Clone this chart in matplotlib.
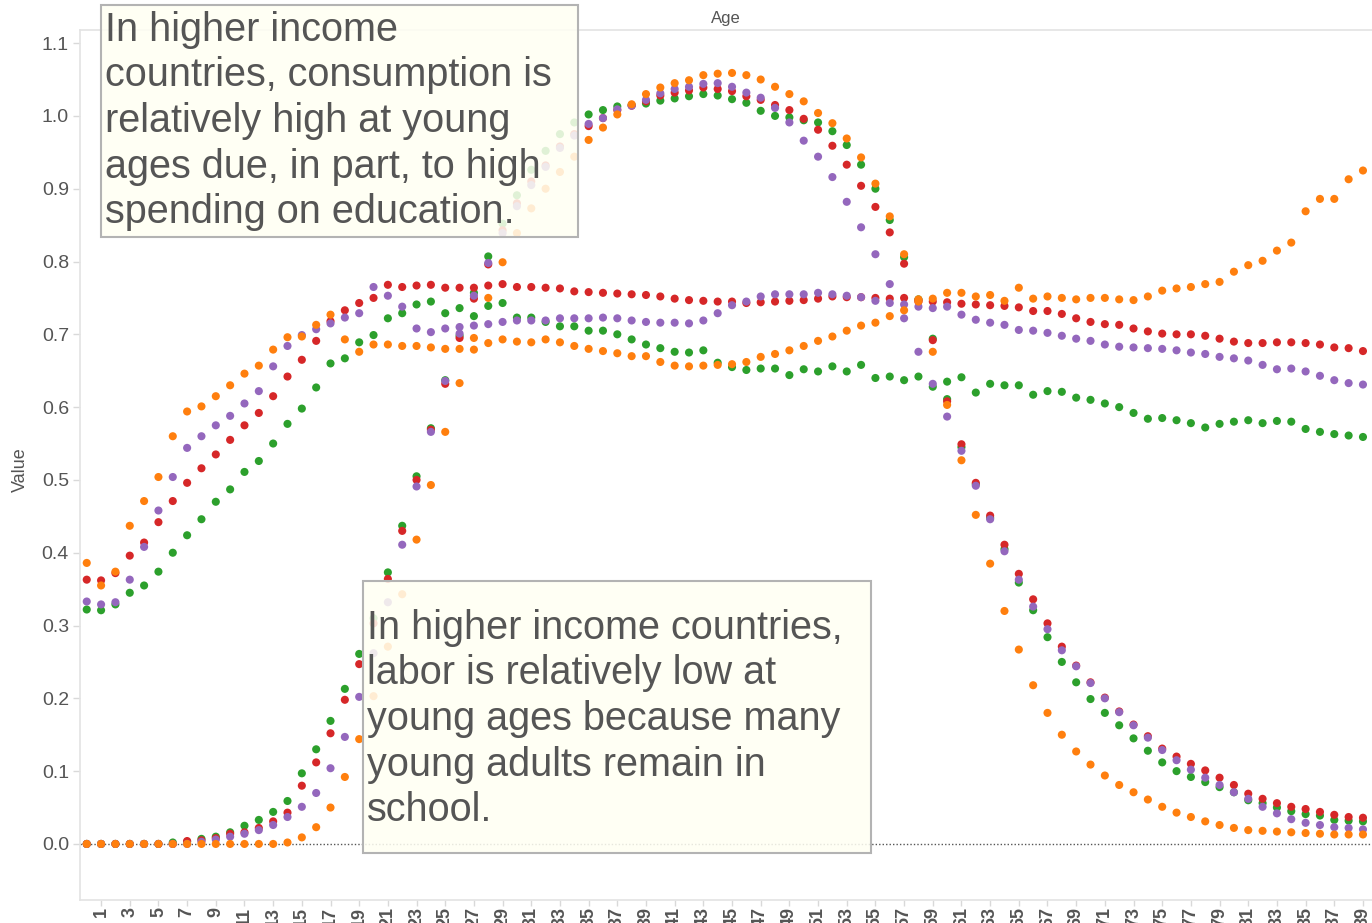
import matplotlib
matplotlib.use("Agg")
import matplotlib.pyplot as plt
from matplotlib.patches import Rectangle
import numpy as np

plt.rcParams['font.family'] = ['Liberation Sans', 'DejaVu Sans']

ages = list(range(0, 90))
xtick_labels = list(range(1, 90, 2))
ytick_values = [0.0, 0.1, 0.2, 0.3, 0.4, 0.5, 0.6, 0.7, 0.8, 0.9, 1.0, 1.1]

# ---- Orange ----
orange_consumption = [
    0.386, 0.355, 0.374, 0.437, 0.471, 0.504, 0.560, 0.594, 0.601, 0.615,
    0.630, 0.646, 0.657, 0.679, 0.696, 0.697, 0.713, 0.727, 0.693, 0.676,
    0.686, 0.686, 0.684, 0.684, 0.682, 0.680, 0.680, 0.679, 0.688, 0.693,
    0.690, 0.689, 0.693, 0.689, 0.684, 0.680, 0.677, 0.674, 0.670, 0.670,
    0.662, 0.657, 0.656, 0.657, 0.658, 0.659, 0.662, 0.669, 0.673, 0.678,
    0.684, 0.691, 0.697, 0.705, 0.712, 0.716, 0.725, 0.733, 0.745, 0.749,
    0.757, 0.757, 0.752, 0.754, 0.746, 0.764, 0.749, 0.752, 0.750, 0.748,
    0.750, 0.750, 0.748, 0.747, 0.752, 0.760, 0.763, 0.765, 0.769, 0.772,
    0.786, 0.795, 0.801, 0.815, 0.826, 0.869, 0.886, 0.886, 0.913, 0.925]
orange_labor = [
    0, 0, 0, 0, 0, 0, 0, 0, 0, 0,
    0, 0, 0, 0, 0.002, 0.009, 0.023, 0.050, 0.092, 0.144,
    0.203, 0.271, 0.343, 0.418, 0.493, 0.566, 0.633, 0.695, 0.750, 0.799,
    0.839, 0.873, 0.900, 0.923, 0.944, 0.967, 0.984, 1.002, 1.016, 1.030,
    1.039, 1.045, 1.049, 1.056, 1.058, 1.059, 1.056, 1.050, 1.040, 1.030,
    1.020, 1.004, 0.990, 0.969, 0.943, 0.907, 0.862, 0.810, 0.748, 0.676,
    0.603, 0.527, 0.452, 0.385, 0.320, 0.267, 0.218, 0.180, 0.150, 0.127,
    0.109, 0.094, 0.081, 0.071, 0.061, 0.051, 0.043, 0.037, 0.031, 0.026,
    0.022, 0.019, 0.018, 0.017, 0.016, 0.015, 0.014, 0.013, 0.013, 0.013]

# ---- Red ----
red_consumption = [
    0.363, 0.362, 0.372, 0.396, 0.414, 0.442, 0.471, 0.496, 0.516, 0.535,
    0.555, 0.575, 0.592, 0.615, 0.642, 0.665, 0.691, 0.718, 0.733, 0.743,
    0.750, 0.768, 0.765, 0.767, 0.768, 0.764, 0.764, 0.764, 0.767, 0.769,
    0.765, 0.765, 0.764, 0.763, 0.759, 0.758, 0.757, 0.756, 0.755, 0.754,
    0.752, 0.749, 0.747, 0.746, 0.745, 0.745, 0.743, 0.744, 0.745, 0.746,
    0.747, 0.749, 0.752, 0.751, 0.751, 0.750, 0.749, 0.750, 0.747, 0.745,
    0.744, 0.742, 0.741, 0.740, 0.739, 0.737, 0.732, 0.732, 0.728, 0.722,
    0.717, 0.714, 0.713, 0.708, 0.704, 0.701, 0.700, 0.700, 0.698, 0.694,
    0.690, 0.688, 0.688, 0.689, 0.689, 0.688, 0.686, 0.682, 0.681, 0.677]
red_labor = [
    0, 0, 0, 0, 0, 0, 0, 0.004, 0.005, 0.008,
    0.014, 0.016, 0.022, 0.031, 0.043, 0.080, 0.112, 0.152, 0.198, 0.247,
    0.303, 0.364, 0.430, 0.500, 0.569, 0.632, 0.695, 0.749, 0.796, 0.843,
    0.880, 0.910, 0.932, 0.958, 0.975, 0.986, 0.997, 1.008, 1.014, 1.020,
    1.028, 1.032, 1.035, 1.039, 1.037, 1.034, 1.027, 1.022, 1.015, 1.008,
    0.996, 0.981, 0.959, 0.933, 0.904, 0.875, 0.840, 0.797, 0.745, 0.692,
    0.608, 0.549, 0.496, 0.451, 0.411, 0.371, 0.336, 0.303, 0.271, 0.245,
    0.222, 0.201, 0.182, 0.164, 0.148, 0.131, 0.120, 0.110, 0.101, 0.091,
    0.081, 0.069, 0.062, 0.056, 0.051, 0.048, 0.044, 0.040, 0.037, 0.036]

# ---- Purple ----
purple_consumption = [
    0.333, 0.329, 0.332, 0.363, 0.408, 0.458, 0.504, 0.544, 0.560, 0.575,
    0.588, 0.605, 0.622, 0.656, 0.684, 0.699, 0.707, 0.715, 0.723, 0.729,
    0.765, 0.753, 0.738, 0.708, 0.703, 0.708, 0.710, 0.712, 0.714, 0.717,
    0.719, 0.719, 0.719, 0.722, 0.722, 0.722, 0.723, 0.722, 0.719, 0.717,
    0.716, 0.716, 0.715, 0.719, 0.729, 0.740, 0.745, 0.752, 0.755, 0.755,
    0.755, 0.757, 0.755, 0.753, 0.751, 0.746, 0.743, 0.741, 0.738, 0.736,
    0.738, 0.727, 0.720, 0.716, 0.713, 0.706, 0.705, 0.702, 0.698, 0.694,
    0.691, 0.686, 0.683, 0.682, 0.681, 0.680, 0.678, 0.675, 0.673, 0.669,
    0.667, 0.664, 0.658, 0.652, 0.653, 0.649, 0.643, 0.637, 0.633, 0.631]
purple_labor = [
    0, 0, 0, 0, 0, 0, 0, 0, 0.003, 0.006,
    0.010, 0.014, 0.019, 0.026, 0.037, 0.051, 0.070, 0.104, 0.147, 0.202,
    0.262, 0.332, 0.411, 0.491, 0.566, 0.636, 0.701, 0.753, 0.798, 0.839,
    0.876, 0.905, 0.930, 0.956, 0.973, 0.989, 0.997, 1.009, 1.014, 1.022,
    1.031, 1.037, 1.040, 1.044, 1.045, 1.040, 1.032, 1.025, 1.011, 0.991,
    0.966, 0.944, 0.916, 0.882, 0.847, 0.810, 0.769, 0.722, 0.676, 0.632,
    0.587, 0.540, 0.492, 0.446, 0.402, 0.363, 0.326, 0.295, 0.266, 0.244,
    0.221, 0.200, 0.181, 0.163, 0.146, 0.129, 0.115, 0.102, 0.091, 0.081,
    0.071, 0.062, 0.051, 0.042, 0.034, 0.029, 0.026, 0.023, 0.022, 0.020]

# ---- Green ----
green_consumption = [
    0.322, 0.321, 0.329, 0.345, 0.355, 0.374, 0.400, 0.424, 0.446, 0.470,
    0.487, 0.511, 0.526, 0.550, 0.577, 0.598, 0.627, 0.660, 0.667, 0.689,
    0.699, 0.722, 0.729, 0.741, 0.745, 0.729, 0.736, 0.725, 0.739, 0.743,
    0.723, 0.723, 0.717, 0.711, 0.711, 0.705, 0.705, 0.700, 0.693, 0.686,
    0.681, 0.676, 0.675, 0.678, 0.661, 0.655, 0.651, 0.653, 0.653, 0.644,
    0.652, 0.649, 0.656, 0.649, 0.658, 0.640, 0.642, 0.637, 0.642, 0.628,
    0.635, 0.641, 0.620, 0.632, 0.630, 0.630, 0.617, 0.622, 0.621, 0.613,
    0.610, 0.605, 0.600, 0.592, 0.584, 0.585, 0.582, 0.578, 0.572, 0.577,
    0.580, 0.582, 0.578, 0.581, 0.580, 0.570, 0.566, 0.563, 0.561, 0.559]
green_labor = [
    0, 0, 0, 0, 0, 0, 0.002, 0.003, 0.007, 0.010,
    0.016, 0.025, 0.033, 0.044, 0.059, 0.097, 0.130, 0.169, 0.213, 0.261,
    0.310, 0.373, 0.437, 0.505, 0.571, 0.637, 0.698, 0.757, 0.807, 0.852,
    0.891, 0.926, 0.952, 0.975, 0.991, 1.002, 1.008, 1.013, 1.015, 1.017,
    1.021, 1.024, 1.027, 1.030, 1.028, 1.023, 1.018, 1.007, 1.000, 0.998,
    0.994, 0.991, 0.979, 0.960, 0.933, 0.900, 0.857, 0.806, 0.748, 0.694,
    0.611, 0.545, 0.494, 0.448, 0.405, 0.359, 0.321, 0.284, 0.250, 0.222,
    0.199, 0.180, 0.163, 0.145, 0.128, 0.112, 0.100, 0.092, 0.085, 0.078,
    0.071, 0.060, 0.056, 0.050, 0.045, 0.041, 0.039, 0.033, 0.032, 0.031]

note_consumption = ("In higher income\ncountries, consumption is\nrelatively high at young\n"
                    "ages due, in part, to high\nspending on education.")
note_labor = ("In higher income countries,\nlabor is relatively low at\nyoung ages because many\n"
              "young adults remain in\nschool.")

series = [
    ("#2ca02c", green_consumption, green_labor),
    ("#d62728", red_consumption, red_labor),
    ("#9467bd", purple_consumption, purple_labor),
    ("#ff7f0e", orange_consumption, orange_labor),
]

W, H = 1372, 923
fig = plt.figure(figsize=(W / 100, H / 100), dpi=100)
ax = fig.add_axes([80 / W, 1 - 900 / H, 1 - 80 / W, (900 - 30) / H])

ax.axhline(0, color="#555555", linestyle=(0, (1, 1.5)), linewidth=1.0, zorder=1)

for z, (col, cons, lab) in enumerate(series):
    ax.scatter(ages, cons, s=34, color=col, edgecolors="none", zorder=2 + z)
    ax.scatter(ages, lab, s=34, color=col, edgecolors="none", zorder=2 + z)

ax.set_xlim(-0.47, 89.63)
ax.set_ylim(-0.077, 1.118)

ax.set_xticks(xtick_labels)
ax.set_xticklabels([str(v) for v in xtick_labels], rotation=90, fontweight="bold",
                   fontsize=13, color="#555555")
ax.set_yticks(ytick_values)
ax.set_yticklabels([f"{v:.1f}" for v in ytick_values], fontsize=14, color="#555555")
ax.tick_params(axis="x", length=4, color="#d9d9d9", width=1, pad=1)
ax.tick_params(axis="y", length=5, color="#d9d9d9", width=1, pad=3)

for side in ["left", "bottom", "top"]:
    ax.spines[side].set_color("#e3e3e3")
    ax.spines[side].set_linewidth(1.2)
ax.spines["right"].set_visible(False)

ax.set_title("Age", fontsize=12, color="#555555", pad=5)
fig.text(20 / W, 1 - 470 / H, "Value", rotation=90, fontsize=13, color="#555555",
         ha="center", va="center")

def add_note(x0, y0, x1, y1, text, tx, ty):
    rect = Rectangle((x0 / W, 1 - y1 / H), (x1 - x0) / W, (y1 - y0) / H,
                     transform=fig.transFigure, facecolor="#fffff3", alpha=0.86,
                     edgecolor="none", zorder=5)
    fig.patches.append(rect)
    edge = Rectangle((x0 / W, 1 - y1 / H), (x1 - x0) / W, (y1 - y0) / H,
                     transform=fig.transFigure, facecolor="none",
                     edgecolor="#b3b3b3", linewidth=1.5, zorder=6)
    fig.patches.append(edge)
    fig.text(tx / W, 1 - ty / H, text, fontsize=28.5, color="#555555",
             ha="left", va="top", linespacing=1.25, zorder=7)

add_note(101, 5, 578, 237, note_consumption, 105, 11)
add_note(363, 581, 871, 853, note_labor, 367, 609)

fig.savefig("out.png", dpi=100)
